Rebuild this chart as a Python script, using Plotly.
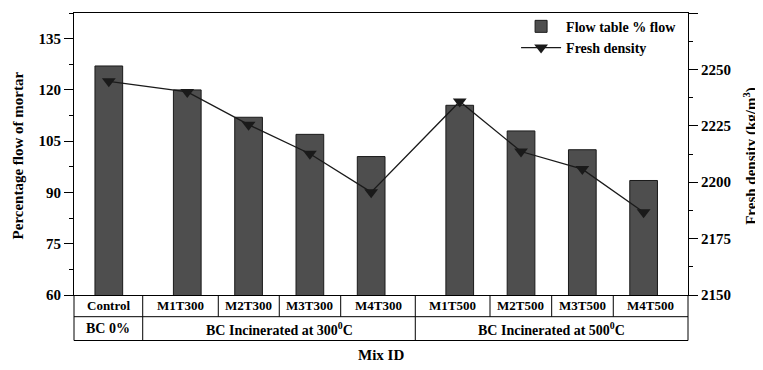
import plotly.graph_objects as go

# ---- data ----
mix_ids = ["Control", "M1T300", "M2T300", "M3T300", "M4T300",
           "M1T500", "M2T500", "M3T500", "M4T500"]
flow_pct = [127, 120, 112, 107, 100.5, 115.5, 108, 102.5, 93.5]
fresh_density = [2244.7, 2240, 2225.5, 2212.6, 2195.6, 2235.8, 2213.6, 2205.8, 2186.7]
groups = ["BC 0%", "BC Incinerated at 300<sup>0</sup>C", "BC Incinerated at 500<sup>0</sup>C"]
group_members = [1, 4, 4]
flow_ticks = [60, 75, 90, 105, 120, 135]
density_ticks = [2150, 2175, 2200, 2225, 2250, 2275]

# ---- layout constants (positions on the numeric x axis) ----
x_pos = [0, 1.28, 2.28, 3.28, 4.28, 5.725, 6.725, 7.725, 8.725]
x_range = [-0.568, 9.449]
cell_edges = [x_range[0], 0.553, 1.786, 2.781, 3.783, 5.0, 6.219, 7.225, 8.23, x_range[1]]

FONT = "Liberation Serif"
def f(size):
    return dict(family=FONT, size=size, color="black", weight="bold")

fig = go.Figure()
fig.add_trace(go.Bar(
    x=x_pos, y=flow_pct, name="Flow table % flow", width=0.452,
    marker=dict(color="#4e4e4e", line=dict(color="#1a1a1a", width=1)),
    yaxis="y",
))
fig.add_trace(go.Scatter(
    x=x_pos, y=fresh_density, name="Fresh density", mode="lines+markers",
    line=dict(color="#1a1a1a", width=1.3),
    marker=dict(symbol="triangle-down", size=12, color="#1a1a1a"),
    yaxis="y2",
))

PLOT_W = 614
PLOT_H = 282
shapes = []
line_style = dict(color="black", width=1)
row1_bottom = -21.7 / PLOT_H
row2_bottom = -45.5 / PLOT_H
for yy in (row1_bottom, row2_bottom):
    shapes.append(dict(type="line", xref="paper", yref="paper", x0=0, x1=1,
                       y0=yy, y1=yy, line=line_style))
for xx in (0, 1):
    shapes.append(dict(type="line", xref="paper", yref="paper", x0=xx, x1=xx,
                       y0=0, y1=row2_bottom, line=line_style))
for xx in cell_edges[1:-1]:
    shapes.append(dict(type="line", xref="x", yref="paper", x0=xx, x1=xx,
                       y0=0, y1=row1_bottom, line=line_style))
idx = 0
group_edges = [cell_edges[0]]
for n in group_members:
    idx += n
    group_edges.append(cell_edges[idx])
for xx in group_edges[1:-1]:
    shapes.append(dict(type="line", xref="x", yref="paper", x0=xx, x1=xx,
                       y0=row1_bottom, y1=row2_bottom, line=line_style))

annotations = []
for i, name in enumerate(mix_ids):
    cx = (cell_edges[i] + cell_edges[i + 1]) / 2
    annotations.append(dict(text=name, x=cx, y=row1_bottom / 2, xref="x", yref="paper",
                            showarrow=False, font=f(13), xanchor="center", yanchor="middle"))
for g, name in enumerate(groups):
    cx = (group_edges[g] + group_edges[g + 1]) / 2
    annotations.append(dict(text=name, x=cx, y=(row1_bottom + row2_bottom) / 2,
                            xref="x", yref="paper", showarrow=False, font=f(14),
                            xanchor="center", yanchor="middle"))
annotations.append(dict(text="Mix ID", x=0.5, y=-60 / PLOT_H, xref="paper", yref="paper",
                        showarrow=False, font=f(15), xanchor="center", yanchor="middle"))
annotations.append(dict(text="Percentage flow of mortar", x=-56 / PLOT_W, y=0.495,
                        xref="paper", yref="paper", showarrow=False, font=f(15),
                        textangle=-90, xanchor="center", yanchor="middle"))
annotations.append(dict(text="Fresh density (kg/m<sup>3</sup>)", x=(PLOT_W + 63) / PLOT_W, y=0.49,
                        xref="paper", yref="paper", showarrow=False, font=f(15),
                        textangle=-90, xanchor="center", yanchor="middle"))

# page body has an 8px margin, so the figure is sized to fit inside the window
fig.update_layout(
    width=755, height=362,
    margin=dict(l=66, r=75, t=5, b=75, autoexpand=False),
    paper_bgcolor="white", plot_bgcolor="white",
    font=f(14),
    showlegend=True,
    legend=dict(x=0.72, y=1.008, xanchor="left", yanchor="top",
                bgcolor="rgba(0,0,0,0)", font=f(14), tracegroupgap=0,
                itemwidth=40),
    xaxis=dict(range=x_range, showticklabels=False, ticks="", showgrid=False,
               zeroline=False, showline=True, mirror=True, linecolor="black",
               linewidth=1, automargin=False),
    yaxis=dict(range=[60, 142.5], tickvals=flow_ticks,
               ticks="outside", ticklen=9, tickwidth=1, tickcolor="black",
               minor=dict(dtick=7.5, tick0=60, ticks="outside", ticklen=4,
                          tickcolor="black", showgrid=False),
               showgrid=False, zeroline=False, showline=True, linecolor="black",
               linewidth=1, tickfont=f(15), automargin=False),
    yaxis2=dict(range=[2150, 2275], tickvals=density_ticks,
                overlaying="y", side="right",
                ticks="outside", ticklen=9, tickwidth=1, tickcolor="black",
                minor=dict(dtick=12.5, tick0=2150, ticks="outside", ticklen=4,
                           tickcolor="black", showgrid=False),
                showgrid=False, zeroline=False, showline=True, linecolor="black",
                linewidth=1, tickfont=f(15), automargin=False),
    shapes=shapes,
    annotations=annotations,
)

fig.write_html("out.html")
